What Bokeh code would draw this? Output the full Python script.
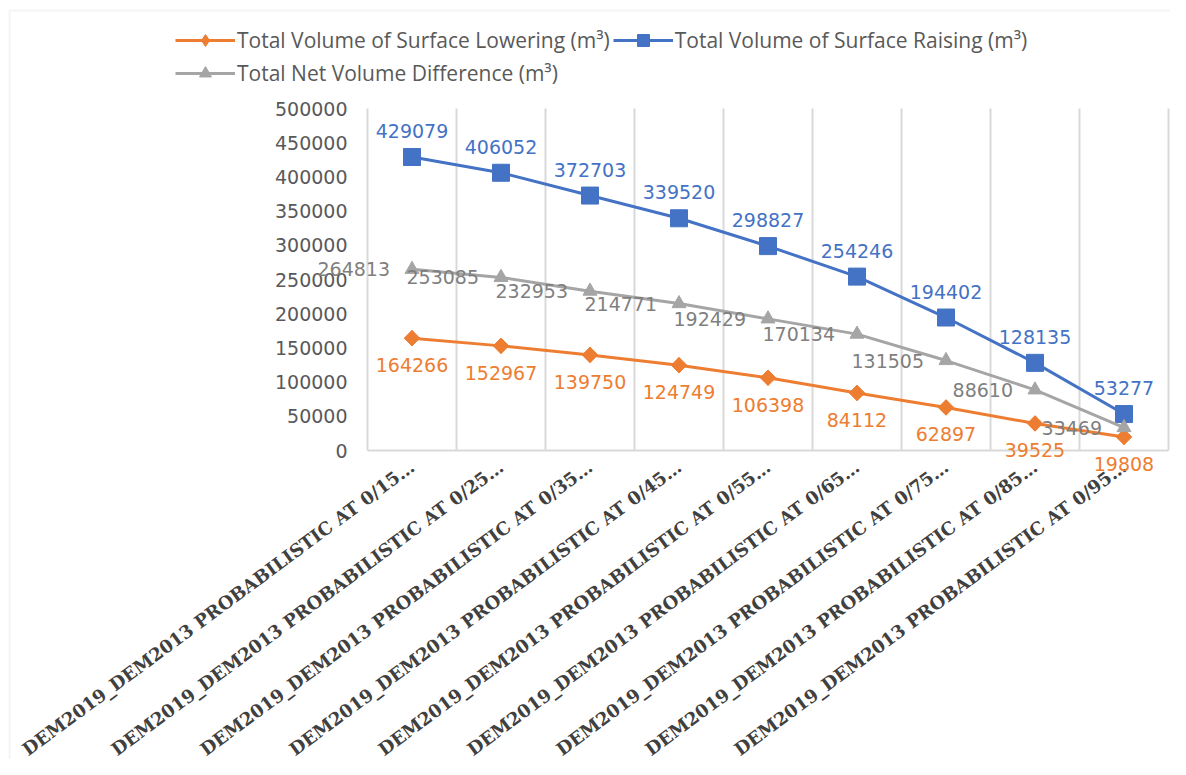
import math
from bokeh.plotting import figure
from bokeh.models import (ColumnDataSource, Range1d, FixedTicker, LabelSet, Legend,
                          LegendItem, BasicTickFormatter, BoxAnnotation)
from bokeh.core.properties import value
from bokeh.embed import file_html
from bokeh.resources import INLINE

categories = [
    "DEM2019_DEM2013 PROBABILISTIC AT 0/15…",
    "DEM2019_DEM2013 PROBABILISTIC AT 0/25…",
    "DEM2019_DEM2013 PROBABILISTIC AT 0/35…",
    "DEM2019_DEM2013 PROBABILISTIC AT 0/45…",
    "DEM2019_DEM2013 PROBABILISTIC AT 0/55…",
    "DEM2019_DEM2013 PROBABILISTIC AT 0/65…",
    "DEM2019_DEM2013 PROBABILISTIC AT 0/75…",
    "DEM2019_DEM2013 PROBABILISTIC AT 0/85…",
    "DEM2019_DEM2013 PROBABILISTIC AT 0/95…",
]
lowering = [164266, 152967, 139750, 124749, 106398, 84112, 62897, 39525, 19808]
raising = [429079, 406052, 372703, 339520, 298827, 254246, 194402, 128135, 53277]
net_diff = [264813, 253085, 232953, 214771, 192429, 170134, 131505, 88610, 33469]
y_ticks = [0, 50000, 100000, 150000, 200000, 250000, 300000, 350000, 400000, 450000, 500000]

series_names = [
    "Total Volume of Surface Lowering (m³)",
    "Total Volume of Surface Raising (m³)",
    "Total Net Volume Difference (m³)",
]

ORANGE = "#ED7D31"
BLUE = "#4472C4"
GRAY = "#A5A5A5"
GRID = "#D9D9D9"

n = len(categories)
xs = list(range(1, n + 1))
src = ColumnDataSource(dict(
    x=xs,
    low=lowering, rai=raising, net=net_diff,
    low_t=[str(v) for v in lowering],
    rai_t=[str(v) for v in raising],
    net_t=[str(v) for v in net_diff],
))

# frame covers the whole canvas; plot area spans 0.5..n+0.5 and 0..500000
W, H = 1170, 759
px_per_cat = 89.0
plot_left, plot_top, plot_h = 367.0, 108.0, 342.0
y_max = y_ticks[-1]
units_per_px = y_max / plot_h
x_start = 0.5 - plot_left / px_per_cat
x_end = 0.5 + (W - plot_left) / px_per_cat
y_end = y_max + plot_top * units_per_px
y_start = -(H - plot_top - plot_h) * units_per_px

p = figure(width=W, height=H, output_backend="svg", toolbar_location=None,
           x_range=Range1d(x_start, x_end), y_range=Range1d(y_start, y_end),
           min_border_left=0, min_border_right=0, min_border_top=0,
           min_border_bottom=0)
p.outline_line_color = None
p.background_fill_color = "white"
p.border_fill_color = "white"
p.xgrid.grid_line_color = None
p.ygrid.grid_line_color = None

# chart-area border (top and left edges visible in the reference)
p.add_layout(BoxAnnotation(left=9, right=W + 10, top=H - 10, bottom=-10,
                           left_units="screen", right_units="screen",
                           top_units="screen", bottom_units="screen",
                           fill_alpha=0, line_color=GRID, line_width=2,
                           level="underlay"))

# category separators (vertical grid)
bounds = [i + 0.5 for i in range(0, n + 1)]
p.segment(x0=bounds, x1=bounds, y0=[y_ticks[0]] * len(bounds),
          y1=[y_max] * len(bounds), line_color=GRID, line_width=2)

yax = p.yaxis[0]
yax.fixed_location = 0.5
yax.bounds = (y_ticks[0], y_max)
yax.ticker = FixedTicker(ticks=y_ticks)
yax.formatter = BasicTickFormatter(use_scientific=False)
yax.axis_line_color = None
yax.major_tick_line_color = None
yax.minor_tick_line_color = None
yax.major_label_standoff = 14
yax.major_label_text_font = "DejaVu Sans"
yax.major_label_text_font_size = "19px"
yax.major_label_text_color = "#595959"

xax = p.xaxis[0]
xax.fixed_location = 0
xax.bounds = (0.5, n + 0.5)
xax.ticker = FixedTicker(ticks=xs)
xax.major_label_overrides = {x: c for x, c in zip(xs, categories)}
xax.axis_line_color = GRID
xax.axis_line_width = 2
xax.major_tick_line_color = None
xax.minor_tick_line_color = None
xax.major_label_orientation = 0.637
xax.major_label_standoff = 8
xax.major_label_text_font = "DejaVu Serif"
xax.major_label_text_font_style = "bold"
xax.major_label_text_font_size = "18px"
xax.major_label_text_color = "#404040"

r1 = p.line("x", "low", source=src, line_color=ORANGE, line_width=3)
# plain diamond (used for the legend swatch), covered by the rotated square below
d1 = p.scatter("x", "low", source=src, marker="diamond", size=15,
               fill_color=ORANGE, line_color=ORANGE)
m1 = p.scatter("x", "low", source=src, marker="square", angle=math.pi / 4, size=11,
               fill_color=ORANGE, line_color=ORANGE)
r2 = p.line("x", "rai", source=src, line_color=BLUE, line_width=3)
m2 = p.scatter("x", "rai", source=src, marker="square", size=17,
               fill_color=BLUE, line_color=BLUE)
r3 = p.line("x", "net", source=src, line_color=GRAY, line_width=3)
m3 = p.scatter("x", "net", source=src, marker="triangle", size=14,
               fill_color=GRAY, line_color=GRAY)

common = dict(source=src, text_font=value("DejaVu Sans"), text_font_size="19px",
              text_baseline="middle")
p.add_layout(LabelSet(x="x", y="low", text="low_t", text_align="center", y_offset=-27,
                      text_color=ORANGE, **common))
p.add_layout(LabelSet(x="x", y="rai", text="rai_t", text_align="center", y_offset=26,
                      text_color=BLUE, **common))
p.add_layout(LabelSet(x="x", y="net", text="net_t", text_align="right", x_offset=-22,
                      text_color="#7F7F7F", **common))

# column-major fill: col 1 = Lowering, Net ; col 2 = Raising
legend = Legend(items=[
    LegendItem(label=series_names[0], renderers=[r1, d1]),
    LegendItem(label=series_names[2], renderers=[r3, m3]),
    LegendItem(label=series_names[1], renderers=[r2, m2]),
], location=(175, H - 88), ncols=2)
legend.border_line_color = None
legend.background_fill_alpha = 0
legend.padding = 0
legend.margin = 0
legend.spacing = 3
legend.glyph_width = 60
legend.glyph_height = 30
legend.label_height = 30
legend.label_standoff = 2
legend.label_text_font = "Open Sans"
legend.label_text_font_size = "21px"
legend.label_text_color = "#595959"
p.add_layout(legend)

open("out.html", "w").write(file_html(p, INLINE))
